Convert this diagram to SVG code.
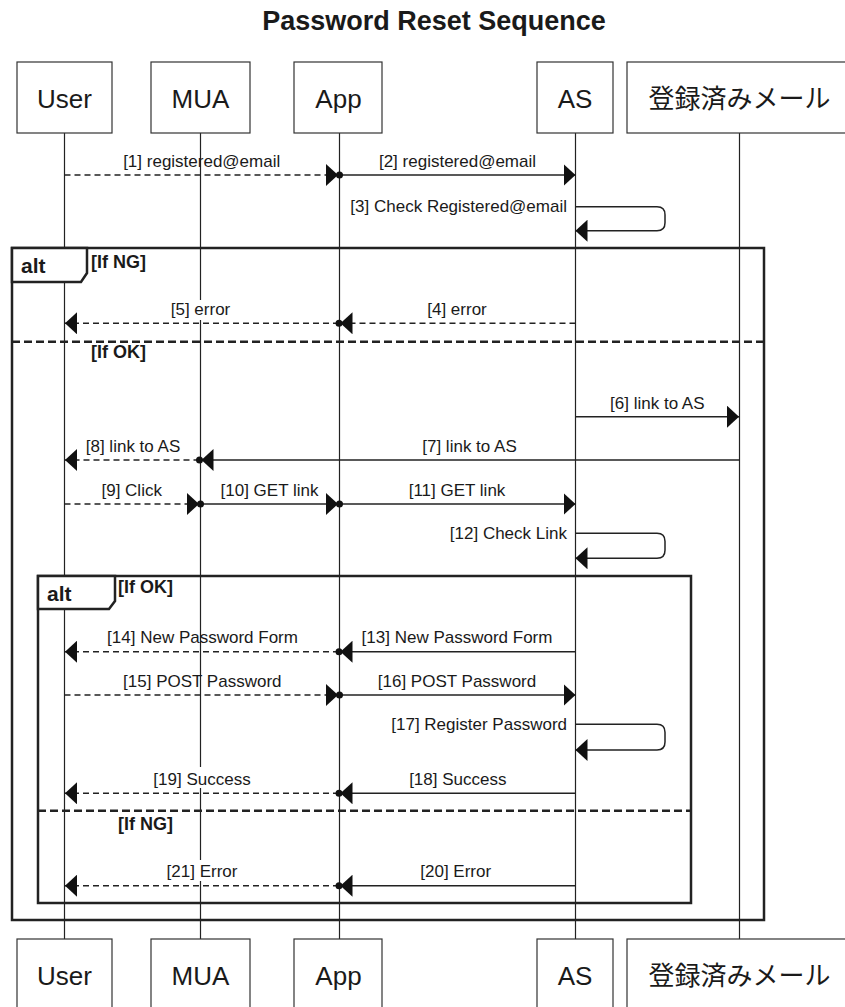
<svg xmlns="http://www.w3.org/2000/svg" width="845" height="1007" viewBox="0 0 845 1007">
<style>
text { font-family: "Liberation Sans", Arial, "Noto Sans CJK JP", sans-serif; fill: #1a1a1a; }
.title { font-size: 27px; font-weight: bold; text-anchor: middle; }
.pt { font-size: 26px; text-anchor: middle; }
.lbl { font-size: 17px; text-anchor: middle; }
.lblr { font-size: 17px; text-anchor: end; }
.fl { font-size: 18px; font-weight: bold; }
.ft { font-size: 21px; font-weight: bold; }
.box { fill: #fff; stroke: #333; stroke-width: 1.2; }
.life { stroke: #222; stroke-width: 1.2; fill: none; }
.msg { stroke: #222; stroke-width: 1.5; fill: none; }
.dash { stroke-dasharray: 6 4; }
.frame { fill: none; stroke: #222; stroke-width: 2.5; }
.tab { fill: #fff; stroke: #222; stroke-width: 2.5; }
.sep { stroke: #222; stroke-width: 2.5; stroke-dasharray: 8 4; fill: none; }
.bg { fill: #fff; }
</style>
<defs>
<marker id="arr" viewBox="0 0 12 22" refX="12" refY="11" markerWidth="12" markerHeight="22" markerUnits="userSpaceOnUse" orient="auto">
<path d="M0,0 L12,11 L0,22 Z" fill="#111"/>
</marker>
<marker id="dot" viewBox="0 0 8 8" refX="4" refY="4" markerWidth="8" markerHeight="8" markerUnits="userSpaceOnUse" orient="auto">
<circle cx="4" cy="4" r="3.5" fill="#111"/>
</marker>
</defs>
<rect width="845" height="1007" fill="#fff"/>
<text class="title" x="434" y="30">Password Reset Sequence</text>

<g id="lifelines">
<line class="life" x1="64.5" y1="133" x2="64.5" y2="939"/>
<line class="life" x1="200.5" y1="133" x2="200.5" y2="939"/>
<line class="life" x1="339.5" y1="133" x2="339.5" y2="939"/>
<line class="life" x1="575.5" y1="133" x2="575.5" y2="939"/>
<line class="life" x1="739.5" y1="133" x2="739.5" y2="939"/>
</g>

<g id="participant-user">
<rect class="box" x="17" y="62" width="95" height="71"/>
<text class="pt" x="64.5" y="108">User</text>
<rect class="box" x="17" y="939" width="95" height="71"/>
<text class="pt" x="64.5" y="985">User</text>
</g>
<g id="participant-mua">
<rect class="box" x="151" y="62" width="99" height="71"/>
<text class="pt" x="200.5" y="108">MUA</text>
<rect class="box" x="151" y="939" width="99" height="71"/>
<text class="pt" x="200.5" y="985">MUA</text>
</g>
<g id="participant-app">
<rect class="box" x="294" y="62" width="88" height="71"/>
<text class="pt" x="338.5" y="108">App</text>
<rect class="box" x="294" y="939" width="88" height="71"/>
<text class="pt" x="338.5" y="985">App</text>
</g>
<g id="participant-as">
<rect class="box" x="537" y="62" width="76" height="71"/>
<text class="pt" x="575" y="108">AS</text>
<rect class="box" x="537" y="939" width="76" height="71"/>
<text class="pt" x="575" y="985">AS</text>
</g>
<g id="participant-mail">
<rect class="box" x="627" y="62" width="225" height="71"/>
<text class="pt" x="739.5" y="108">登録済みメール</text>
<rect class="box" x="627" y="939" width="225" height="71"/>
<text class="pt" x="739.5" y="985">登録済みメール</text>
</g>

<g id="frame-outer">
<rect class="frame" x="12" y="248" width="752" height="672"/>
<path class="tab" d="M12,248 H87 V273 L81,282 H12 Z"/>
<text class="ft" x="21" y="273">alt</text>
<text class="fl" x="91" y="268">[If NG]</text>
<line class="sep" x1="12" y1="341.7" x2="764" y2="341.7"/>
<text class="fl" x="91" y="358">[If OK]</text>
</g>

<g id="frame-inner">
<rect class="frame" x="38" y="576" width="653" height="327"/>
<path class="tab" d="M38,576 H115 V601 L109,609 H38 Z"/>
<text class="ft" x="47" y="601">alt</text>
<text class="fl" x="118" y="593">[If OK]</text>
<line class="sep" x1="38" y1="810.7" x2="691" y2="810.7"/>
<text class="fl" x="118" y="830">[If NG]</text>
</g>

<g id="connectors">
<path class="msg dash" d="M64.5,175 H338" marker-end="url(#arr)"/>
<text class="lbl" x="201.7" y="166.5">[1] registered@email</text>
<path class="msg" d="M339.5,175 H575.5" marker-start="url(#dot)" marker-end="url(#arr)"/>
<text class="lbl" x="457.5" y="166.5">[2] registered@email</text>
<path class="msg" d="M575.5,206.7 H657 Q665,206.7 665,214.7 V222.7 Q665,230.7 657,230.7 H575.5" marker-end="url(#arr)"/>
<text class="lblr" x="567" y="212.4">[3] Check Registered@email</text>

<path class="msg dash" d="M575.5,323.3 H340.5" marker-end="url(#arr)"/>
<text class="lbl" x="457" y="315">[4] error</text>
<path class="msg dash" d="M339,323.3 H65" marker-start="url(#dot)" marker-end="url(#arr)"/>
<rect class="bg" x="170" y="300" width="62" height="20"/>
<text class="lbl" x="200.5" y="315">[5] error</text>

<path class="msg" d="M575.5,416.7 H739" marker-end="url(#arr)"/>
<text class="lbl" x="657.3" y="408.5">[6] link to AS</text>
<path class="msg" d="M739.5,460 H201.5" marker-end="url(#arr)"/>
<text class="lbl" x="469.5" y="451.5">[7] link to AS</text>
<path class="msg dash" d="M199.5,460 H65" marker-start="url(#dot)" marker-end="url(#arr)"/>
<text class="lbl" x="133" y="451.5">[8] link to AS</text>

<path class="msg dash" d="M64.5,504 H199" marker-end="url(#arr)"/>
<text class="lbl" x="131.7" y="495.5">[9] Click</text>
<path class="msg" d="M200.5,504 H338" marker-start="url(#dot)" marker-end="url(#arr)"/>
<text class="lbl" x="269.5" y="495.5">[10] GET link</text>
<path class="msg" d="M339.5,504 H575.5" marker-start="url(#dot)" marker-end="url(#arr)"/>
<text class="lbl" x="457" y="495.5">[11] GET link</text>
<path class="msg" d="M575.5,533.3 H657 Q665,533.3 665,541.3 V550.3 Q665,558.3 657,558.3 H575.5" marker-end="url(#arr)"/>
<text class="lblr" x="567" y="539">[12] Check Link</text>

<path class="msg" d="M575.5,651.7 H340.5" marker-end="url(#arr)"/>
<text class="lbl" x="457" y="643.2">[13] New Password Form</text>
<path class="msg dash" d="M339,651.7 H65" marker-start="url(#dot)" marker-end="url(#arr)"/>
<text class="lbl" x="202.5" y="643.2">[14] New Password Form</text>

<path class="msg dash" d="M64.5,695 H338" marker-end="url(#arr)"/>
<text class="lbl" x="202.3" y="686.5">[15] POST Password</text>
<path class="msg" d="M339.5,695 H575.5" marker-start="url(#dot)" marker-end="url(#arr)"/>
<text class="lbl" x="457" y="686.5">[16] POST Password</text>
<path class="msg" d="M575.5,724.3 H657 Q665,724.3 665,732.3 V742 Q665,750 657,750 H575.5" marker-end="url(#arr)"/>
<text class="lblr" x="567" y="730">[17] Register Password</text>

<path class="msg" d="M575.5,793.3 H340.5" marker-end="url(#arr)"/>
<text class="lbl" x="457.8" y="784.8">[18] Success</text>
<path class="msg dash" d="M339,793.3 H65" marker-start="url(#dot)" marker-end="url(#arr)"/>
<rect class="bg" x="150" y="767" width="104" height="21"/>
<text class="lbl" x="202" y="784.8">[19] Success</text>

<path class="msg" d="M575.5,885.7 H340.5" marker-end="url(#arr)"/>
<text class="lbl" x="455.7" y="877.2">[20] Error</text>
<path class="msg dash" d="M339,885.7 H65" marker-start="url(#dot)" marker-end="url(#arr)"/>
<rect class="bg" x="164" y="860" width="76" height="21"/>
<text class="lbl" x="202" y="877.2">[21] Error</text>
</g>
</svg>
